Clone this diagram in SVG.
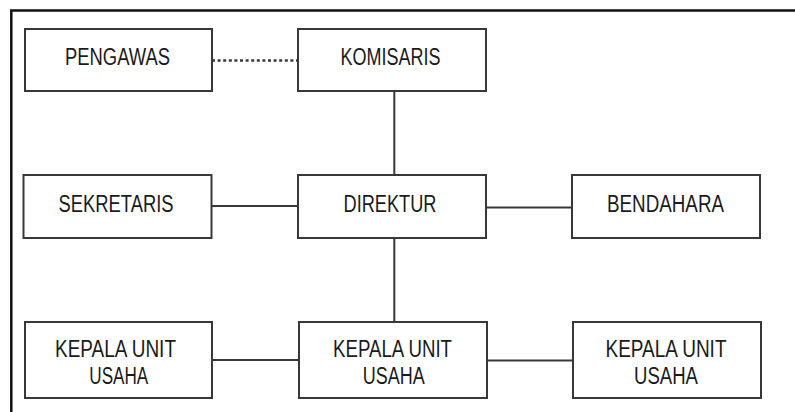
<svg xmlns="http://www.w3.org/2000/svg" width="795" height="412" viewBox="0 0 795 412">
  <style>
    .box { fill: #ffffff; stroke: #383838; stroke-width: 2; }
    .lbl { font-family: "Liberation Sans", Arial, sans-serif; font-size: 23px; fill: #1a1a1a; text-anchor: middle; }
    .conn { stroke: #383838; stroke-width: 2; fill: none; }
    .dot { stroke: #383838; stroke-width: 2.5; stroke-dasharray: 3 2.6; fill: none; }
    .frame { stroke: #111111; stroke-width: 2.5; fill: none; }
  </style>
  <rect width="795" height="412" fill="#ffffff"/>
  <path class="frame" d="M11.3 412 V10.5 H795"/>
  <g id="connectors">
    <line class="dot" x1="212" y1="60.5" x2="298" y2="60.5"/>
    <line class="conn" x1="394.3" y1="91" x2="394.3" y2="175"/>
    <line class="conn" x1="211" y1="206" x2="298" y2="206"/>
    <line class="conn" x1="486" y1="207.5" x2="572" y2="207.5"/>
    <line class="conn" x1="394.3" y1="238" x2="394.3" y2="322"/>
    <line class="conn" x1="212" y1="360" x2="299" y2="360"/>
    <line class="conn" x1="487" y1="360.5" x2="573" y2="360.5"/>
  </g>
  <g id="pengawas">
    <rect class="box" x="25" y="29" width="187" height="62"/>
    <text class="lbl" x="117.5" y="64.5" textLength="105" lengthAdjust="spacingAndGlyphs">PENGAWAS</text>
  </g>
  <g id="komisaris">
    <rect class="box" x="298" y="29" width="188" height="62"/>
    <text class="lbl" x="390.5" y="64.5" textLength="100" lengthAdjust="spacingAndGlyphs">KOMISARIS</text>
  </g>
  <g id="sekretaris">
    <rect class="box" x="23.5" y="175" width="188" height="63"/>
    <text class="lbl" x="116" y="211.5" textLength="115" lengthAdjust="spacingAndGlyphs">SEKRETARIS</text>
  </g>
  <g id="direktur">
    <rect class="box" x="298" y="175" width="188" height="63"/>
    <text class="lbl" x="390" y="211.5" textLength="93" lengthAdjust="spacingAndGlyphs">DIREKTUR</text>
  </g>
  <g id="bendahara">
    <rect class="box" x="572" y="175" width="188" height="63"/>
    <text class="lbl" x="665.5" y="211.5" textLength="117" lengthAdjust="spacingAndGlyphs">BENDAHARA</text>
  </g>
  <g id="kepala-unit-kiri">
    <rect class="box" x="25" y="322" width="187" height="76"/>
    <text class="lbl" x="115.5" y="356.5" textLength="121" lengthAdjust="spacingAndGlyphs">KEPALA UNIT</text>
    <text class="lbl" x="118.8" y="383.5" textLength="59" lengthAdjust="spacingAndGlyphs">USAHA</text>
  </g>
  <g id="kepala-unit-tengah">
    <rect class="box" x="299" y="322" width="188" height="76"/>
    <text class="lbl" x="392.5" y="356.5" textLength="119" lengthAdjust="spacingAndGlyphs">KEPALA UNIT</text>
    <text class="lbl" x="393.8" y="383.5" textLength="62" lengthAdjust="spacingAndGlyphs">USAHA</text>
  </g>
  <g id="kepala-unit-kanan">
    <rect class="box" x="573" y="322" width="188" height="76"/>
    <text class="lbl" x="666" y="356.5" textLength="121" lengthAdjust="spacingAndGlyphs">KEPALA UNIT</text>
    <text class="lbl" x="666" y="383.5" textLength="64" lengthAdjust="spacingAndGlyphs">USAHA</text>
  </g>
</svg>
